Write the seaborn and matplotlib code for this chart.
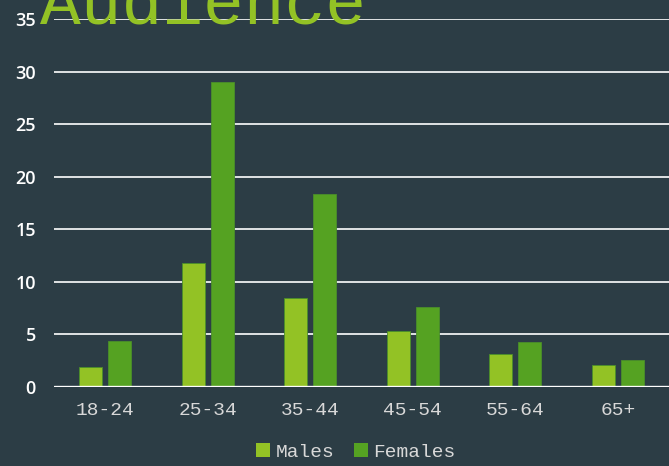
import matplotlib
matplotlib.use("Agg")
import matplotlib.pyplot as plt
import seaborn as sns
import pandas as pd
from matplotlib.patches import Patch

categories = ["18-24", "25-34", "35-44", "45-54", "55-64", "65+"]
males = [1.9, 11.8, 8.5, 5.3, 3.1, 2.1]
females = [4.4, 29.0, 18.4, 7.6, 4.3, 2.6]
series_names = ["Males", "Females"]
yticks = [0, 5, 10, 15, 20, 25, 30, 35]

bg = "#2c3d45"
c_m = "#93c225"
c_f = "#55a222"

df = pd.DataFrame({
    "cat": categories * 2,
    "value": males + females,
    "series": [series_names[0]] * len(categories) + [series_names[1]] * len(categories),
})

sns.set_theme(style="dark")
plt.rcParams["font.family"] = ["DejaVu Sans"]

fig = plt.figure(figsize=(6.69, 4.66), dpi=100, facecolor=bg)
ax = fig.add_axes([54 / 669, 1 - 387 / 466, 1 - 54 / 669, (387 - 19) / 466])
ax.set_facecolor(bg)

sns.barplot(data=df, x="cat", y="value", hue="series", order=categories,
            hue_order=series_names, palette=[c_m, c_f], width=0.566, gap=0.2,
            saturation=1, ax=ax, legend=False, edgecolor="#4a8f2a",
            linewidth=0.6, zorder=3)

ax.set_ylim(0, 35)
ax.set_yticks(yticks)
ax.set_xlim(-0.5, len(categories) - 0.5)
ax.yaxis.grid(True, color="white", linewidth=1.2, zorder=0)
ax.xaxis.grid(False)
ax.axhline(0, color="white", linewidth=2.4, zorder=4)
for s in ax.spines.values():
    s.set_visible(False)
ax.set_xlabel("")
ax.set_ylabel("")
ax.tick_params(axis="y", length=0, pad=13, labelcolor="white")
ax.tick_params(axis="x", length=0, pad=11, labelcolor="#d8d8d8")
for t in ax.get_yticklabels():
    t.set_fontfamily("Open Sans")
    t.set_fontweight("semibold")
    t.set_fontsize(13)
for t in ax.get_xticklabels():
    t.set_fontfamily("Liberation Mono")
    t.set_fontsize(14)

fig.text(40 / 669, 1 - 24 / 466, "Audience", fontfamily="Liberation Mono",
         fontsize=49, color=c_m, va="baseline", ha="left")

handles = [Patch(facecolor=c_m, edgecolor="none"), Patch(facecolor=c_f, edgecolor="none")]
leg = fig.legend(handles, series_names, loc="center", bbox_to_anchor=(356 / 669, 1 - 452 / 466),
                 ncol=2, frameon=False, handlelength=0.7, handleheight=0.7,
                 handletextpad=0.3, columnspacing=1.0,
                 prop={"family": "Liberation Mono", "size": 14})
for t in leg.get_texts():
    t.set_color("#d8d8d8")

fig.savefig("out.png", dpi=100, facecolor=bg)
